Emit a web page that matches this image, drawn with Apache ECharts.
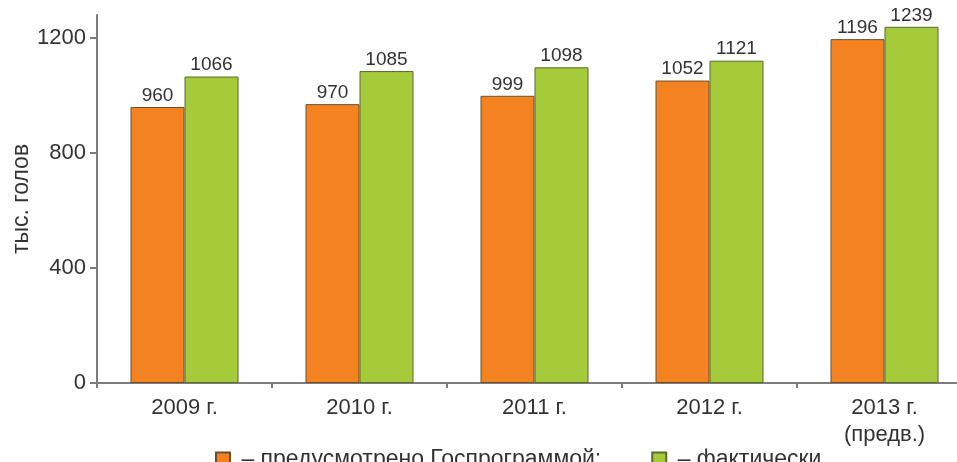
<!DOCTYPE html>
<html>
<head>
<meta charset="utf-8">
<script src="https://cdn.jsdelivr.net/npm/echarts@6/dist/echarts.min.js"></script>
<style>
html,body{margin:0;padding:0;background:#fff;}
#c{width:957px;height:462px;}
</style>
</head>
<body>
<div id="c"></div>
<script>
var categories = ['2009 г.', '2010 г.', '2011 г.', '2012 г.', '2013 г.\n(предв.)'];
var planned = [960, 970, 999, 1052, 1196];
var actual = [1066, 1085, 1098, 1121, 1239];
var yTicks = [0, 400, 800, 1200];
var seriesNames = [' – предусмотрено Госпрограммой;', ' – фактически'];
var yName = 'тыс. голов';

var chart = echarts.init(document.getElementById('c'));
var font = 'Liberation Sans, Arial, sans-serif';
var axisColor = '#7d7d7d';
var labelStyle = {show: true, position: 'top', distance: 2, color: '#333', fontSize: 19, fontFamily: font};
chart.setOption({
  animation: false,
  textStyle: {fontFamily: font},
  grid: {left: 97, right: -15, top: 15, bottom: 79, containLabel: false, outerBoundsMode: 'none'},
  legend: {
    left: 210, top: 443,
    itemWidth: 14, itemHeight: 14, itemGap: 50,
    icon: 'rect',
    textStyle: {fontSize: 23, color: '#333', fontFamily: font},
    data: seriesNames
  },
  xAxis: {
    type: 'category',
    data: categories,
    axisLine: {lineStyle: {color: axisColor, width: 2}},
    axisTick: {show: true, length: 5, lineStyle: {color: axisColor, width: 2}},
    axisLabel: {color: '#333', fontSize: 22, margin: 11, lineHeight: 27, fontFamily: font}
  },
  yAxis: {
    type: 'value',
    min: 0, max: 1280,
    name: yName,
    nameLocation: 'middle',
    nameRotate: 90,
    nameGap: 64,
    nameMoveOverlap: false,
    nameTextStyle: {fontSize: 23, color: '#333', fontFamily: font},
    splitLine: {show: false},
    axisLine: {show: true, lineStyle: {color: axisColor, width: 2}},
    axisTick: {show: true, length: 7, customValues: yTicks, lineStyle: {color: axisColor, width: 2}},
    axisLabel: {color: '#333', fontSize: 22, margin: 11, customValues: yTicks, fontFamily: font,
      formatter: function (v) { return String(v); }}
  },
  series: [
    {
      name: seriesNames[0], type: 'bar', data: planned,
      barWidth: 54, barGap: '0%',
      itemStyle: {color: '#f58220', borderColor: '#6a5030', borderWidth: 1},
      label: labelStyle
    },
    {
      name: seriesNames[1], type: 'bar', data: actual,
      barWidth: 54, barGap: '0%',
      itemStyle: {color: '#a6cb3a', borderColor: '#5a6a30', borderWidth: 1},
      label: labelStyle
    }
  ]
});
</script>
</body>
</html>
